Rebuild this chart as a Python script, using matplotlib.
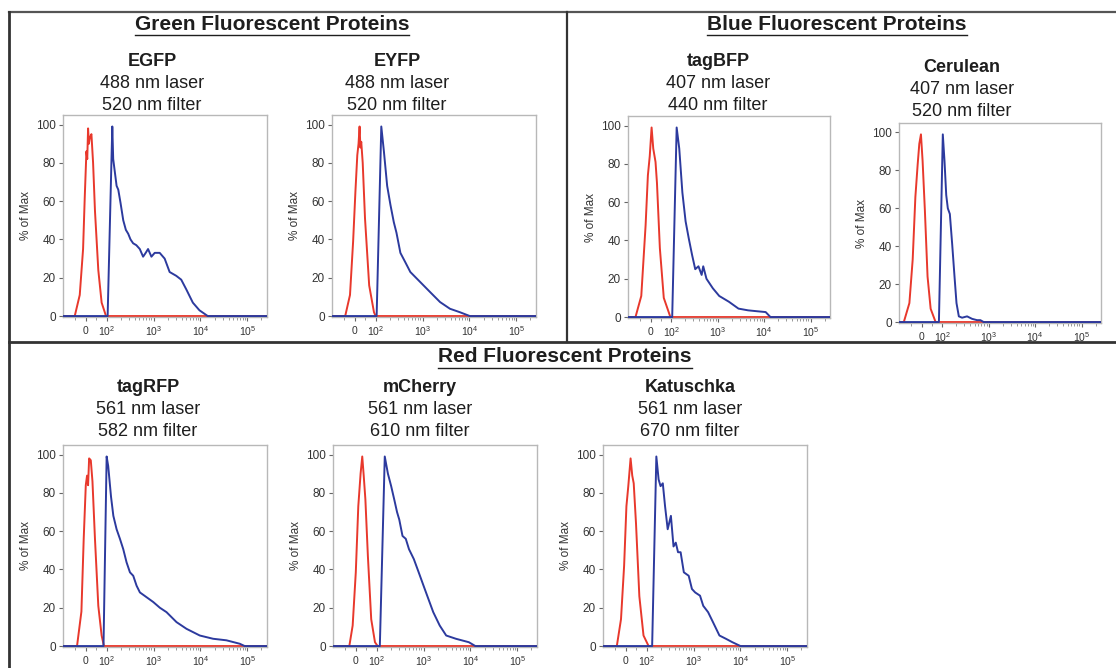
import numpy as np
import matplotlib
matplotlib.use("Agg")
import matplotlib.pyplot as plt
from matplotlib.lines import Line2D

# =====================================================
# FONT SETTINGS
# =====================================================

plt.rcParams['font.family'] = ['Liberation Sans', 'DejaVu Sans']
plt.rcParams['mathtext.fontset'] = 'custom'
plt.rcParams['mathtext.rm'] = 'Liberation Sans'
plt.rcParams['mathtext.it'] = 'Liberation Sans:italic'
plt.rcParams['mathtext.bf'] = 'Liberation Sans:bold'

# =====================================================
# DATA (fluorescence intensity, % of max)
# red = unstained control, blue = fluorescent protein
# =====================================================

egfp_red_x = [-53, -29, -13, -5, 3, 7, 11, 15, 19, 27, 35, 44, 60, 76, 97]
egfp_red_y = [0, 11, 35, 62, 86, 82, 98, 90, 93, 95, 80, 55, 24, 7, 0]
egfp_blue_x = [105, 132, 138, 163, 177, 198, 226, 257, 288, 323, 367, 430, 509,
               599, 680, 764, 900, 1059, 1352, 1725, 2202, 3050, 3890, 4970,
               6880, 9520, 14300]
egfp_blue_y = [0, 99, 82, 68, 66, 59, 50, 45, 43, 40, 38, 37, 35,
               31, 33, 35, 31, 33, 33, 30, 23, 21, 19, 14,
               7, 3, 0]

eyfp_red_x = [-46, -23, -8, 3, 12, 18, 23, 27, 31, 38, 49, 69, 92, 100]
eyfp_red_y = [0, 11, 39, 65, 84, 90, 99, 88, 91, 80, 51, 16, 2, 0]
eyfp_blue_x = [105, 132, 150, 176, 207, 244, 278, 337, 431, 549, 759, 1050,
               1452, 2362, 3845, 6250, 10170]
eyfp_blue_y = [0, 99, 86, 68, 58, 49, 43.5, 33, 28, 23, 19.5, 16,
               12.5, 7.3, 3.8, 2, 0]

tagbfp_red_x = [-73, -45, -24, -13, -4, 5, 13, 24, 31, 45, 64, 96]
tagbfp_red_y = [0, 11, 48, 74, 84, 99, 88, 81, 70, 36, 10, 0]
tagbfp_blue_x = [105, 131, 149, 174, 204, 239, 281, 329, 386, 452, 489, 574,
                 788, 1082, 1743, 2807, 4520, 7240, 10800, 13700]
tagbfp_blue_y = [0, 99, 88, 65, 50, 41, 32.5, 25, 26.5, 22, 26.5, 20,
                 15, 11, 8, 4.4, 3.5, 3, 2.6, 0]

cerulean_red_x = [-86, -59, -43, -30, -19, -11, -3, 5, 16, 29, 44, 68]
cerulean_red_y = [0, 10, 33, 66, 83, 94, 99, 85, 59, 24, 7, 0]
cerulean_blue_x = [84, 103, 112, 122, 132, 146, 164, 184, 203, 228, 268, 343,
                   439, 562, 663, 781]
cerulean_blue_y = [0, 99, 85, 67, 60, 57, 41, 24, 10, 3, 2.3, 3,
                   1.7, 1, 1, 0]

tagrfp_red_x = [-42, -21, -10, 0, 6, 11, 16, 24, 32, 44, 60, 76, 87]
tagrfp_red_y = [0, 18, 56, 84, 89, 84, 98, 97, 86, 56, 21, 5.5, 0]
tagrfp_blue_x = [85, 100, 108, 124, 139, 163, 192, 226, 266, 314, 369, 435,
                 512, 710, 984, 1364, 1890, 3085, 5035, 9680, 18600, 35700,
                 68700, 87700]
tagrfp_blue_y = [0, 99, 94, 78, 68, 61, 56, 50.6, 43.7, 38.5, 36.7, 31.5,
                 28, 25.5, 23, 20, 17.7, 12.5, 9, 5.5, 3.8, 3,
                 1.2, 0]

mcherry_red_x = [-31, -15, 0, 12, 23, 31, 38, 46, 58, 74, 92, 105]
mcherry_red_y = [0, 10.7, 38.5, 73, 90, 99, 89, 76.6, 47, 14, 2, 0]
mcherry_blue_x = [117, 149, 174, 204, 240, 272, 304, 356, 418, 489, 621, 788,
                  1000, 1268, 1610, 2213, 3040, 4895, 9240, 12700]
mcherry_blue_y = [0, 99, 90, 83.5, 76, 70, 66, 57.5, 56, 50.6, 45.4, 38.5,
                  31.5, 24.6, 17.7, 10.7, 5.5, 3.8, 2, 0]

katuschka_red_x = [-43, -23, -8, 3, 12, 23, 31, 38, 49, 65, 85, 110]
katuschka_red_y = [0, 14, 42, 73, 83.5, 98, 89, 85, 64, 26, 5.5, 0]
katuschka_blue_x = [131, 161, 180, 198, 221, 247, 281, 329, 374, 418, 467, 530,
                    621, 788, 924, 1082, 1374, 1610, 2042, 2593, 3563, 4893,
                    6728, 10000]
katuschka_blue_y = [0, 99, 87, 83.5, 85, 73, 61, 68, 52, 54, 49, 49,
                    38.5, 36.7, 29.8, 28, 26.3, 21, 17.7, 12.5, 5.5, 3.8,
                    2, 0]

x_ticks = [0, 1e2, 1e3, 1e4, 1e5]
x_tick_labels = [r'$0$', r'$10^2$', r'$10^3$', r'$10^4$', r'$10^5$']
y_ticks = [0, 20, 40, 60, 80, 100]

section_titles = ['Green Fluorescent Proteins', 'Blue Fluorescent Proteins',
                  'Red Fluorescent Proteins']

panel_names = ['EGFP', 'EYFP', 'tagBFP', 'Cerulean', 'tagRFP', 'mCherry',
               'Katuschka']
panel_lasers = ['488 nm laser', '488 nm laser', '407 nm laser', '407 nm laser',
                '561 nm laser', '561 nm laser', '561 nm laser']
panel_filters = ['520 nm filter', '520 nm filter', '440 nm filter',
                 '520 nm filter', '582 nm filter', '610 nm filter',
                 '670 nm filter']

# =====================================================
# LAYOUT (pixels)
# =====================================================

W, H = 1116, 668
XMIN, XMAX = -110, 262144

RED = '#e8382c'
BLUE = '#2c3a9e'
TEXT = '#1e1e1e'

# left, top, right, bottom of each axes box
axes_px = [
    (63, 115, 267, 317),
    (332, 115, 536, 317),
    (628, 116, 830, 318),
    (899, 123, 1101, 323),
    (63, 445, 267, 647),
    (333, 445, 537, 647),
    (603, 445, 807, 647),
]

# centre x, y of the name line of each panel
label_px = [
    (152, 62), (397, 62), (718, 62), (962, 67),
    (148, 388), (420, 388), (690, 388),
]

section_px = [(272, 24), (837, 24), (565, 357)]


def fx(x):
    return x / W


def fy(y):
    return 1 - y / H


def draw_hist(ax, red_x, red_y, blue_x, blue_y):
    ax.plot([XMIN] + red_x + [XMAX], [0] + red_y + [0],
            color=RED, lw=1.4, zorder=2)
    ax.plot([XMIN] + blue_x + [XMAX], [0] + blue_y + [0],
            color=BLUE, lw=1.4, zorder=3)

    ax.set_xscale('symlog', linthresh=100, linscale=0.4)

    ax.set_xticks(x_ticks)
    ax.set_xticklabels(x_tick_labels)
    minor = [-50, 50]
    for d in [1e2, 1e3, 1e4]:
        minor += [d * k for k in range(2, 10)]
    minor += [2e5]
    ax.set_xticks(minor, minor=True)
    ax.set_yticks(y_ticks)

    # limits after ticks, so the ticks do not widen the view
    ax.set_xlim(XMIN, XMAX)
    ax.set_ylim(-0.5, 105)

    ax.tick_params(axis='x', labelsize=7.5, length=3, color='#666666',
                   labelcolor='#333333', pad=2)
    ax.tick_params(axis='x', which='minor', length=1.8, color='#888888')
    ax.tick_params(axis='y', labelsize=8.5, length=3, color='#666666',
                   labelcolor='#333333', pad=2)

    for spine in ax.spines.values():
        spine.set_color('#b8b8b8')
        spine.set_linewidth(1.0)

    ax.set_ylabel('% of Max', fontsize=8.5, color='#333333', labelpad=3)


# =====================================================
# FIGURE
# =====================================================

fig = plt.figure(figsize=(W / 100, H / 100), dpi=100)
fig.patch.set_facecolor('white')

panel_data = [
    (egfp_red_x, egfp_red_y, egfp_blue_x, egfp_blue_y),
    (eyfp_red_x, eyfp_red_y, eyfp_blue_x, eyfp_blue_y),
    (tagbfp_red_x, tagbfp_red_y, tagbfp_blue_x, tagbfp_blue_y),
    (cerulean_red_x, cerulean_red_y, cerulean_blue_x, cerulean_blue_y),
    (tagrfp_red_x, tagrfp_red_y, tagrfp_blue_x, tagrfp_blue_y),
    (mcherry_red_x, mcherry_red_y, mcherry_blue_x, mcherry_blue_y),
    (katuschka_red_x, katuschka_red_y, katuschka_blue_x, katuschka_blue_y),
]

for i, (l, t, r, b) in enumerate(axes_px):
    ax = fig.add_axes([fx(l), fy(b), fx(r - l), (b - t) / H])
    draw_hist(ax, *panel_data[i])

    cx, cy = label_px[i]
    fig.text(fx(cx), fy(cy), panel_names[i], ha='center', va='center',
             fontsize=13, fontweight='bold', color=TEXT)
    fig.text(fx(cx), fy(cy + 22), panel_lasers[i], ha='center',
             va='center', fontsize=13, color=TEXT)
    fig.text(fx(cx), fy(cy + 44), panel_filters[i], ha='center',
             va='center', fontsize=13, color=TEXT)

# =====================================================
# SECTION TITLES (underlined)
# =====================================================

title_texts = []
for (cx, cy), title in zip(section_px, section_titles):
    t = fig.text(fx(cx), fy(cy), title, ha='center', va='center',
                 fontsize=15, fontweight='bold', color=TEXT)
    title_texts.append(t)

fig.canvas.draw()
renderer = fig.canvas.get_renderer()
for t in title_texts:
    bb = t.get_window_extent(renderer)
    y_line = (bb.y0 - 1) / H
    fig.add_artist(Line2D([bb.x0 / W, bb.x1 / W], [y_line, y_line],
                          transform=fig.transFigure, color=TEXT, lw=1.0))

# =====================================================
# BOX LINES
# =====================================================

box_color = '#333333'
fig.add_artist(Line2D([fx(9), fx(W)], [fy(12), fy(12)],
                      transform=fig.transFigure, color='#555555', lw=1.6))
fig.add_artist(Line2D([fx(9), fx(9)], [fy(12), fy(H)],
                      transform=fig.transFigure, color=box_color, lw=2.0))
fig.add_artist(Line2D([fx(567), fx(567)], [fy(12), fy(342)],
                      transform=fig.transFigure, color=box_color, lw=1.6))
fig.add_artist(Line2D([fx(9), fx(W)], [fy(342), fy(342)],
                      transform=fig.transFigure, color=box_color, lw=2.0))

fig.savefig('out.png', dpi=100)
